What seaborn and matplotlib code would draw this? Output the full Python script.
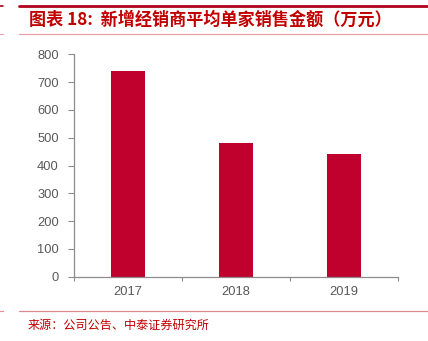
import matplotlib
matplotlib.use("Agg")
import matplotlib.pyplot as plt
from matplotlib.lines import Line2D
import seaborn as sns
import pandas as pd

# Average sales per newly added dealer (10k yuan)
years = ["2017", "2018", "2019"]
sales = [740, 482, 440]
y_ticks = [0, 100, 200, 300, 400, 500, 600, 700, 800]

title = "图表 18:  新增经销商平均单家销售金额（万元）"
source = "来源：公司公告、中泰证券研究所"

sns.set_theme(style="white")
plt.rcParams["font.family"] = ["Noto Sans CJK SC", "DejaVu Sans"]

W, H = 428, 341
fig = plt.figure(figsize=(W / 100, H / 100), dpi=100)

left, right, bottom_px, top_px = 74, 398, 276.5, 54.5
ax = fig.add_axes([left / W, (H - bottom_px) / H, (right - left) / W, (bottom_px - top_px) / H])

df = pd.DataFrame({"year": years, "sales": sales})
sns.barplot(data=df, x="year", y="sales", color="#C0002D", saturation=1,
            width=0.315, ax=ax, edgecolor="none")

ax.set_xlim(-0.5, 2.5)
ax.set_ylim(0, 800)
ax.set_yticks(y_ticks)
ax.set_xlabel("")
ax.set_ylabel("")

spine_c = "#8c8c8c"
for s in ["top", "right"]:
    ax.spines[s].set_visible(False)
for s in ["left", "bottom"]:
    ax.spines[s].set_color(spine_c)
    ax.spines[s].set_linewidth(0.9)

ax.tick_params(axis="y", direction="out", length=4, width=0.8, color=spine_c,
               labelsize=9.3, labelcolor="#595959", pad=7, left=True)
ax.tick_params(axis="x", which="major", length=0, labelsize=9.3,
               labelcolor="#595959", pad=7)
ax.set_xticks([-0.5, 0.5, 1.5, 2.5], minor=True)
ax.tick_params(axis="x", which="minor", direction="out", length=3, width=0.8,
               color=spine_c, bottom=True)

for lbl in ax.get_xticklabels() + ax.get_yticklabels():
    lbl.set_family(["Liberation Sans", "DejaVu Sans"])

# Header and footer rules
def hline(y, x0, x1, color, lw):
    fig.add_artist(Line2D([x0 / W, x1 / W], [(H - y) / H, (H - y) / H],
                          color=color, linewidth=lw, transform=fig.transFigure))

hline(6, 19, 428, "#B0001E", 2.0)
hline(33.5, 19, 428, "#E8A0A8", 0.9)
hline(311, 19, 428, "#E08890", 0.9)
hline(6, 0, 3, "#B0001E", 1.2)
hline(33.5, 0, 3, "#E8A0A8", 0.8)
hline(311, 0, 3, "#E08890", 0.8)

fig.text(29 / W, (H - 20) / H, title, color="#C00000", fontsize=12.3,
         fontweight="bold", va="center", ha="left",
         family=["Noto Sans CJK SC", "DejaVu Sans"])
fig.text(28 / W, (H - 325) / H, source, color="#C00000", fontsize=8.7,
         va="center", ha="left", family=["Noto Sans CJK SC", "DejaVu Sans"])

fig.savefig("out.png", dpi=100)
